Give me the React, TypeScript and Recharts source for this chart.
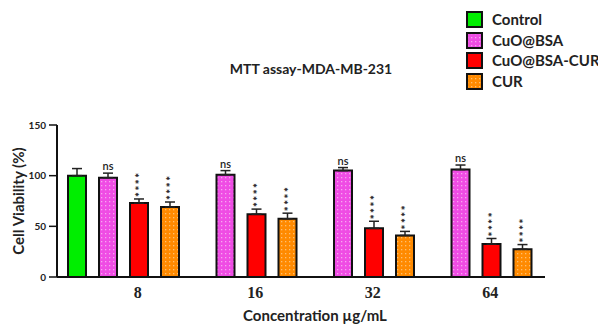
import React from 'react';
import { BarChart, Bar, XAxis, YAxis, ErrorBar, LabelList } from 'recharts';

const concentrations = ['8', '16', '32', '64'];
const controlValues = [100, null, null, null];
const controlErrors = [7, 0, 0, 0];
const cuoBsaValues = [98, 101, 105, 106];
const cuoBsaErrors = [4.5, 4, 3, 4.5];
const cuoBsaCurValues = [73, 62, 48, 32.5];
const cuoBsaCurErrors = [4, 5, 7, 5.5];
const curValues = [69, 57.5, 41, 27.5];
const curErrors = [5, 5.5, 4, 4.5];
const cuoBsaSig = ['ns', 'ns', 'ns', 'ns'];
const cuoBsaCurSig = ['****', '****', '****', '****'];
const curSig = ['****', '****', '****', '****'];
const yTicks = [0, 50, 100, 150];

const data = concentrations.map((c, i) => ({
  conc: c,
  control: controlValues[i],
  controlErr: [0, controlErrors[i]],
  cuoBsa: cuoBsaValues[i],
  cuoBsaErr: [0, cuoBsaErrors[i]],
  cuoBsaSig: cuoBsaSig[i],
  cuoBsaCur: cuoBsaCurValues[i],
  cuoBsaCurErr: [0, cuoBsaCurErrors[i]],
  cuoBsaCurSig: cuoBsaCurSig[i],
  cur: curValues[i],
  curErr: [0, curErrors[i]],
  curSig: curSig[i],
}));

const series = [
  { key: 'control', name: 'Control', fill: '#00ee00', pattern: null },
  { key: 'cuoBsa', name: 'CuO@BSA', fill: 'url(#pinkDots)', pattern: 'pink' },
  { key: 'cuoBsaCur', name: 'CuO@BSA-CUR', fill: '#ff0000', pattern: null },
  { key: 'cur', name: 'CUR', fill: 'url(#orangeDots)', pattern: 'orange' },
];

const FONT = 'Lato, "Open Sans", sans-serif';

const makeSigLabel = (errors: number[], values: number[]) => (props: any) => {
  const { x, y, width, height, value, index } = props;
  const v = values[index];
  if (v == null || !value) return null;
  const pxPerUnit = Math.abs(height) / v;
  const capY = y - errors[index] * pxPerUnit;
  const cx = x + width / 2;
  if (value === 'ns') {
    return (
      <text x={cx} y={capY - 3} textAnchor="middle" fontFamily={FONT} fontSize={11} fontWeight={600} fill="#222">
        ns
      </text>
    );
  }
  const fs = 11.5;
  return (
    <text
      transform={`translate(${cx}, ${capY - 2}) rotate(-90)`}
      x={0}
      y={fs * 0.45}
      textAnchor="start"
      fontFamily={FONT}
      fontSize={fs}
      fontWeight={900}
      letterSpacing={1.5}
      fill="#222"
    >
      {value}
    </text>
  );
};

const XTick = (props: any) => {
  const { x, y, payload } = props;
  return (
    <text x={x + 14} y={y + 12.5} textAnchor="middle" fontFamily='"Liberation Serif", serif' fontWeight={700} fontSize={16} fill="#222">
      {payload.value}
    </text>
  );
};

const YTick = (props: any) => {
  const { x, y, payload } = props;
  return (
    <text x={x - 1} y={y + 3.5} textAnchor="end" fontFamily={FONT} fontWeight={700} fontSize={10} fill="#222">
      {payload.value}
    </text>
  );
};

const PatternDefs = ({ prefix }: { prefix: string }) => (
  <defs>
    <pattern id={`${prefix}pinkDots`} width="4" height="4" patternUnits="userSpaceOnUse">
      <rect width="4" height="4" fill="#ef4ce4" />
      <rect x="1" y="1" width="1.3" height="1.3" fill="#f8a6f2" />
    </pattern>
    <pattern id={`${prefix}orangeDots`} width="4" height="4" patternUnits="userSpaceOnUse">
      <rect width="4" height="4" fill="#ff8a00" />
      <rect x="1" y="1" width="1.3" height="1.3" fill="#ffbf6e" />
    </pattern>
  </defs>
);

const LegendBox = () => (
  <div style={{ position: 'absolute', left: 466, top: 9, whiteSpace: 'nowrap' }}>
    {series.map((s, i) => (
      <div key={s.key} style={{ display: 'flex', alignItems: 'center', height: 20.7 }}>
        <svg width={17} height={17} style={{ display: 'block', flex: 'none' }}>
          <PatternDefs prefix={`lg${i}`} />
          <rect
            x={1}
            y={1}
            width={15}
            height={15}
            fill={s.pattern ? `url(#lg${i}${s.pattern}Dots)` : s.fill}
            stroke="#111"
            strokeWidth={2}
          />
        </svg>
        <span style={{ marginLeft: 9, fontFamily: FONT, fontWeight: 700, fontSize: 15, color: '#222', lineHeight: '17px', whiteSpace: 'nowrap' }}>
          {s.name}
        </span>
      </div>
    ))}
  </div>
);

export default function App() {
  return (
    <div style={{ position: 'absolute', left: 0, top: 0, width: 598, height: 325, background: '#fff' }}>
      <div
        style={{
          position: 'absolute',
          left: 0,
          width: 622,
          top: 60,
          textAlign: 'center',
          fontFamily: FONT,
          fontWeight: 700,
          fontSize: 14,
          color: '#222',
          whiteSpace: 'nowrap',
        }}
      >
        MTT assay-MDA-MB-231
      </div>
      <LegendBox />
      <BarChart
        width={598}
        height={325}
        data={data}
        margin={{ top: 125, right: 53, bottom: 0, left: 0 }}
        barSize={18}
        barGap={13}
      >
        <PatternDefs prefix="" />
        <XAxis
          dataKey="conc"
          height={48}
          padding={{ left: 8, right: 10 }}
          axisLine={{ stroke: '#111', strokeWidth: 2 }}
          tickLine={false}
          tick={<XTick />}
          label={{
            value: 'Concentration µg/mL',
            position: 'insideBottom',
            offset: 0,
            dx: 14,
            dy: -4,
            style: { fontFamily: FONT, fontWeight: 700, fontSize: 15, fill: '#222' },
          }}
        />
        <YAxis
          width={57}
          domain={[0, 150]}
          ticks={yTicks}
          interval={0}
          tickSize={8}
          axisLine={{ stroke: '#111', strokeWidth: 2 }}
          tickLine={{ stroke: '#111', strokeWidth: 1.5 }}
          tick={<YTick />}
          label={{
            value: 'Cell Viability (%)',
            angle: -90,
            position: 'insideLeft',
            offset: 0,
            dx: 19,
            style: { textAnchor: 'middle', fontFamily: FONT, fontWeight: 700, fontSize: 15, fill: '#222' },
          }}
        />
        <Bar dataKey="control" name="Control" fill="#00ee00" stroke="#111" strokeWidth={2} isAnimationActive={false}>
          <ErrorBar dataKey="controlErr" direction="y" width={5} stroke="#222" strokeWidth={1.5} />
        </Bar>
        <Bar dataKey="cuoBsa" name="CuO@BSA" fill="url(#pinkDots)" stroke="#111" strokeWidth={2} isAnimationActive={false}>
          <ErrorBar dataKey="cuoBsaErr" direction="y" width={5} stroke="#222" strokeWidth={1.5} />
          <LabelList dataKey="cuoBsaSig" content={makeSigLabel(cuoBsaErrors, cuoBsaValues)} />
        </Bar>
        <Bar dataKey="cuoBsaCur" name="CuO@BSA-CUR" fill="#ff0000" stroke="#111" strokeWidth={2} isAnimationActive={false}>
          <ErrorBar dataKey="cuoBsaCurErr" direction="y" width={5} stroke="#222" strokeWidth={1.5} />
          <LabelList dataKey="cuoBsaCurSig" content={makeSigLabel(cuoBsaCurErrors, cuoBsaCurValues)} />
        </Bar>
        <Bar dataKey="cur" name="CUR" fill="url(#orangeDots)" stroke="#111" strokeWidth={2} isAnimationActive={false}>
          <ErrorBar dataKey="curErr" direction="y" width={5} stroke="#222" strokeWidth={1.5} />
          <LabelList dataKey="curSig" content={makeSigLabel(curErrors, curValues)} />
        </Bar>
      </BarChart>
    </div>
  );
}
